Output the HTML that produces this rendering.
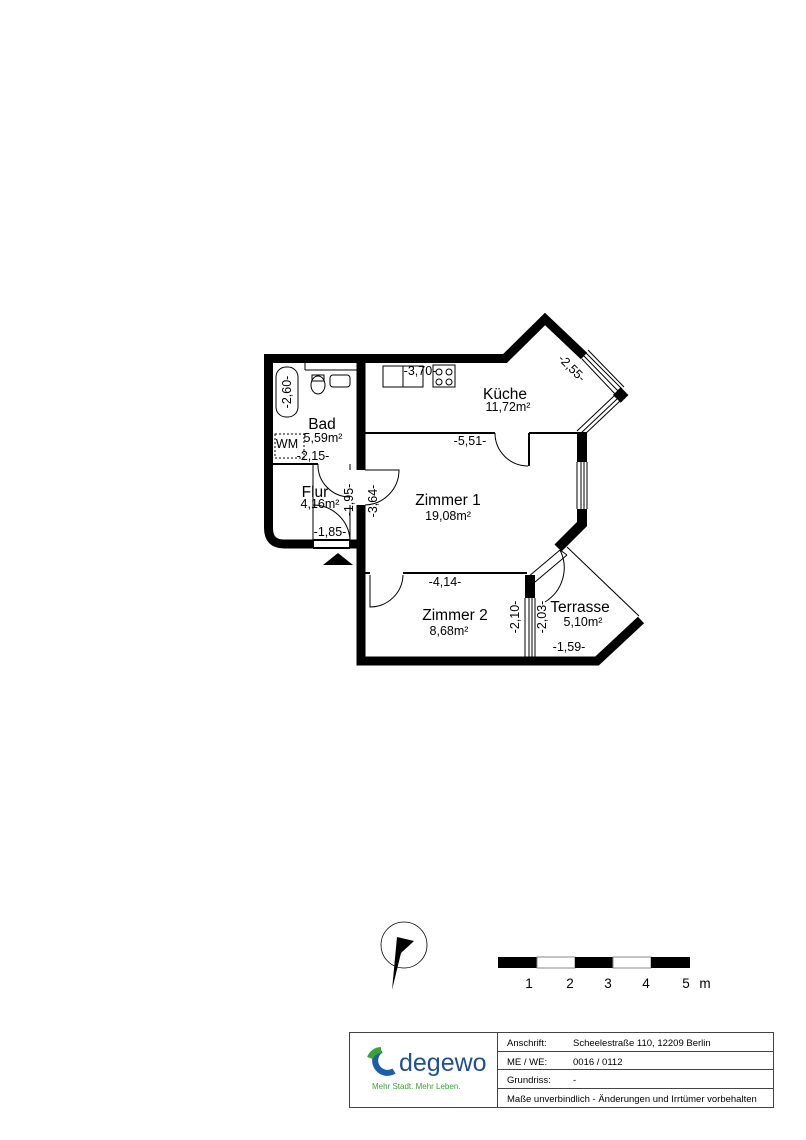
<!DOCTYPE html>
<html><head><meta charset="utf-8"><style>
html,body{margin:0;padding:0;background:#fff;}
svg{display:block}
text{font-family:"Liberation Sans",Arial,sans-serif;fill:#000}
</style></head><body>
<svg width="806" height="1140" viewBox="0 0 806 1140" xmlns="http://www.w3.org/2000/svg">
<g fill="none" stroke="#000" stroke-linejoin="miter" stroke-miterlimit="10">
 <path d="M361,470 L361,358.5 L268.5,358.5 L268.5,528 Q268.5,544 284,544 L313,544" stroke-width="9"/>
 <path d="M350,544 L361,544 L361,661 L597,661 L641,620" stroke-width="9"/>
 <path d="M361,358.5 L505,358.5 L545,319 L584,356" stroke-width="9"/>
 <path d="M361,505 L361,544" stroke-width="9"/>
 <path d="M582,432 L582,462" stroke-width="10"/>
 <path d="M582,509 L582,524 L558,548" stroke-width="10"/>
 <path d="M530,575 L530,598" stroke-width="10"/>
 <rect x="615" y="389" width="11" height="11" fill="#000" stroke="none" transform="rotate(45 620 395)"/>
 <g stroke-width="1">
  <path d="M584,356 L619,392 M586,353 L622,389 M582,359 L616,395 M588,350 L624,387"/>
  <path d="M617,399 L580,434 M620,401 L583,436 M614,396 L577,431"/>
  <path d="M577,462 L577,509 M581,462 L581,509 M584,462 L584,509 M587,462 L587,509"/>
  <path d="M525,598 L525,657 M529,598 L529,657 M532,598 L532,657 M535,598 L535,657"/>
 </g>
 <g stroke-width="2">
  <path d="M365,433 L495,433 M529,433 L580,433 M529,433 L529,466"/>
  <path d="M273,464 L318,464"/>
  <path d="M365,573 L370,573 M403,573 L527,573"/>
  <path d="M313,540 L350,540 M313,548 L350,548 M313,540 L313,548 M350,540 L350,548"/>
 </g>
 <g stroke-width="1">
  <path d="M313,464 L313,540"/>
  <path d="M495,433 A33,33 0 0 0 528,466"/>
  <path d="M370,575 L370,607 A33,33 0 0 0 403,575"/>
  <path d="M350,464 L350,470 M318,464 A32,32 0 0 0 350,497"/>
  <path d="M313,505 A37,37 0 0 1 350,540 M350,505 L350,540"/>
  <path d="M365,470 L399,470 A35,35 0 0 1 365,505"/>
  <path d="M528,577 L560,550 M535,582 L567,555 M567,555 L560,550 M535,582 L528,577"/>
  <path d="M560,550 A40,40 0 0 1 545,602"/>
  <path d="M567,547 L639,616"/>
  <rect x="276" y="367" width="22" height="50" rx="10"/>
  <path d="M305,362 L357,362 M305,362 L305,370 M305,370 L357,370"/>
  <ellipse cx="318" cy="385" rx="7" ry="9"/><rect x="312" y="375" width="12" height="6"/>
  <rect x="330" y="375" width="20" height="12" rx="3"/>
  <rect x="275" y="434" width="29" height="24" stroke-dasharray="2,2"/>
  <rect x="383" y="366" width="40" height="21"/><path d="M403,366 L403,387"/>
  <rect x="433" y="365" width="22" height="22"/>
  <circle cx="439" cy="382" r="3"/><circle cx="449" cy="382" r="3"/><circle cx="439" cy="372" r="3"/><circle cx="449" cy="372" r="3"/>
 </g>
</g>
<polygon points="323,565 338,553 353,565" fill="#000"/>
<g font-size="15.5" text-anchor="middle">
 <text x="505" y="399">Küche</text><text x="448" y="505">Zimmer 1</text>
 <text x="455" y="620">Zimmer 2</text><text x="322" y="429">Bad</text>
 <text x="315" y="497">Flur</text><text x="580" y="612">Terrasse</text>
</g>
<g font-size="12.5" text-anchor="middle">
 <text x="508" y="411">11,72m²</text><text x="448" y="520">19,08m²</text>
 <text x="449" y="635">8,68m²</text><text x="323" y="442">5,59m²</text>
 <text x="320" y="508">4,16m²</text><text x="583" y="626">5,10m²</text>
 <text x="470" y="445">-5,51-</text><text x="445" y="586">-4,14-</text>
 <text x="313" y="460">-2,15-</text><text x="330" y="536">-1,85-</text>
 <text x="569" y="651">-1,59-</text><text x="420" y="375">-3,70-</text>
 <text x="287" y="448" font-size="12.5">WM</text>
 <text transform="translate(291,392) rotate(-90)">-2,60-</text>
 <text transform="translate(353,500) rotate(-90)">-1,95-</text>
 <text transform="translate(377,501) rotate(-90)">-3,64-</text>
 <text transform="translate(519,617) rotate(-90)">-2,10-</text>
 <text transform="translate(546,617) rotate(-90)">-2,03-</text>
 <text transform="translate(569,371) rotate(45)">-2,55-</text>
</g>
<circle cx="404" cy="945" r="23" fill="none" stroke="#000" stroke-width="0.8"/>
<polygon points="392,990 397,937 414,941 401,953" fill="#000"/>
<rect x="498" y="957" width="39" height="11" fill="#000"/>
<rect x="537" y="957" width="38" height="11" fill="#fff" stroke="#888" stroke-width="1"/>
<rect x="575" y="957" width="38" height="11" fill="#000"/>
<rect x="613" y="957" width="38" height="11" fill="#fff" stroke="#888" stroke-width="1"/>
<rect x="651" y="957" width="39" height="11" fill="#000"/>
<g font-size="13.5" text-anchor="middle">
 <text x="529" y="988">1</text><text x="570" y="988">2</text><text x="608" y="988">3</text><text x="646" y="988">4</text><text x="686" y="988">5</text><text x="705" y="988">m</text>
</g>
<g fill="none" stroke="#444" stroke-width="1">
 <rect x="349.5" y="1032.5" width="424" height="75"/>
 <path d="M497.5,1032 L497.5,1108 M497,1051.5 L774,1051.5 M497,1069.5 L774,1069.5 M497,1088.5 L774,1088.5"/>
</g>
<g font-size="9.5">
 <text x="507" y="1046">Anschrift:</text><text x="573" y="1046">Scheelestraße 110, 12209 Berlin</text>
 <text x="507" y="1065">ME / WE:</text><text x="573" y="1065">0016 / 0112</text>
 <text x="507" y="1083">Grundriss:</text><text x="573" y="1083">-</text>
 <text x="507" y="1102">Maße unverbindlich - Änderungen und Irrtümer vorbehalten</text>
</g>
<path d="M381,1050 A12,12 0 1 0 394,1071" fill="none" stroke="#1a5fa8" stroke-width="6"/>
<path d="M381,1050 A12,12 0 0 0 370,1058" fill="none" stroke="#3aa335" stroke-width="6"/>
<text x="399" y="1071" font-size="25" style="fill:#1f4f95">degewo</text>
<text x="372" y="1089" font-size="8" style="fill:#3aa335">Mehr Stadt. Mehr Leben.</text>
</svg>
</body></html>
